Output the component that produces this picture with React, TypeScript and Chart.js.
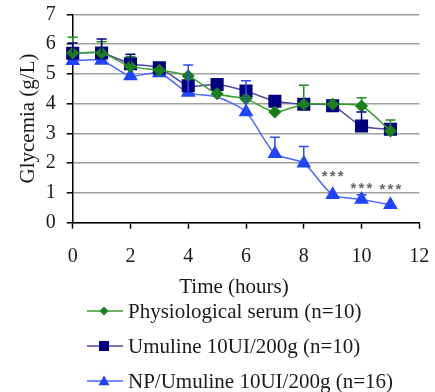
import React, { useEffect, useRef } from "react";
import { Chart, registerables } from "chart.js";

Chart.register(...registerables);

const hours = [0, 1, 2, 3, 4, 5, 6, 7, 8, 9, 10, 11];
const serumValues = [5.7, 5.7, 5.25, 5.12, 4.93, 4.33, 4.16, 3.72, 3.98, 3.98, 3.92, 3.08];
const serumErrors = [0.53, 0.38, 0.33, 0, 0, 0, 0, 0, 0.64, 0, 0.28, 0.37];
const umulineValues = [5.69, 5.7, 5.34, 5.2, 4.6, 4.64, 4.42, 4.08, 3.98, 3.93, 3.25, 3.14];
const umulineErrors = [0.35, 0.47, 0.32, 0, 0, 0, 0, 0, 0, 0, 0.47, 0];
const npValues = [5.44, 5.45, 4.93, 5.03, 4.37, 4.22, 3.72, 2.32, 2.0, 0.94, 0.78, 0.6];
const npErrors = [0, 0, 0, 0, 0.93, 0, 1.05, 0.55, 0.56, 0, 0.16, 0];
const npMarkerShown = [1, 1, 1, 1, 1, 0, 1, 1, 1, 1, 1, 1];

const seriesLabels = [
  "Physiological serum (n=10)",
  "Umuline 10UI/200g (n=10)",
  "NP/Umuline 10UI/200g (n=16)",
];
const sigHours = [9, 10, 11];
const sigLevels = [1.7, 1.3, 1.26];
const sigText = "***";

const xTitle = "Time (hours)";
const yTitle = "Glycemia (g/L)";

const FONT = "'Liberation Serif', 'DejaVu Serif', serif";

// target plot rectangle in canvas pixels
const AREA = { left: 72.7, right: 419.3, top: 14.3, bottom: 222.7 };

const errorBarPlugin = {
  id: "errorBars",
  afterDatasetsDraw(chart: any) {
    const ctx = chart.ctx;
    const y = chart.scales.y;
    chart.data.datasets.forEach((ds: any, i: number) => {
      const meta = chart.getDatasetMeta(i);
      const errs: number[] = ds.errors || [];
      ctx.save();
      ctx.strokeStyle = ds.errColor;
      ctx.lineWidth = 1.5;
      meta.data.forEach((pt: any, j: number) => {
        const e = errs[j];
        const d = ds.data[j];
        if (!e || d == null || d.y == null) return;
        const y0 = y.getPixelForValue(d.y);
        const y1 = y.getPixelForValue(d.y + e);
        ctx.beginPath();
        ctx.moveTo(pt.x, y0);
        ctx.lineTo(pt.x, y1);
        ctx.moveTo(pt.x - 5, y1);
        ctx.lineTo(pt.x + 5, y1);
        ctx.stroke();
      });
      ctx.restore();
    });
  },
};

function drawMarker(ctx: any, style: string, x: number, y: number, r: number, color: string) {
  ctx.save();
  ctx.fillStyle = color;
  ctx.beginPath();
  if (style === "rectRot") {
    ctx.moveTo(x, y - r);
    ctx.lineTo(x + r, y);
    ctx.lineTo(x, y + r);
    ctx.lineTo(x - r, y);
  } else if (style === "rect") {
    ctx.rect(x - r, y - r, 2 * r, 2 * r);
  } else {
    ctx.moveTo(x, y - r);
    ctx.lineTo(x + r, y + r * 0.75);
    ctx.lineTo(x - r, y + r * 0.75);
  }
  ctx.closePath();
  ctx.fill();
  ctx.restore();
}

const extrasPlugin = {
  id: "extras",
  afterDraw(chart: any) {
    const ctx = chart.ctx;
    const { x, y } = chart.scales;
    const area = chart.chartArea;
    ctx.save();
    // significance marks
    ctx.fillStyle = "#666";
    ctx.font = "bold 15px 'Liberation Sans', Arial, sans-serif";
    ctx.textAlign = "center";
    ctx.textBaseline = "alphabetic";
    sigHours.forEach((h, i) => {
      const cx = x.getPixelForValue(h);
      const cy = y.getPixelForValue(sigLevels[i]) + 8.7;
      const chars = sigText.split("");
      chars.forEach((c, k) => {
        ctx.fillText(c, cx + (k - (chars.length - 1) / 2) * 8, cy);
      });
    });
    // axis titles
    ctx.textBaseline = "middle";
    ctx.fillStyle = "#1a1a1a";
    ctx.font = "21px " + FONT;
    ctx.fillText(xTitle, (area.left + area.right) / 2 - 12, 287);
    ctx.save();
    ctx.translate(28, (area.top + area.bottom) / 2);
    ctx.rotate(-Math.PI / 2);
    ctx.fillText(yTitle, 0, 0);
    ctx.restore();
    // legend
    const rows = [311, 346, 381];
    chart.data.datasets.forEach((ds: any, i: number) => {
      const ry = rows[i];
      ctx.strokeStyle = ds.borderColor;
      ctx.lineWidth = 1.5;
      ctx.beginPath();
      ctx.moveTo(87, ry);
      ctx.lineTo(123, ry);
      ctx.stroke();
      drawMarker(ctx, ds.pointStyle, 104, ry, ds.legendR, ds.pointBackgroundColor);
      ctx.fillStyle = "#1a1a1a";
      ctx.font = "21px " + FONT;
      ctx.textAlign = "left";
      ctx.fillText(ds.label, 128, ry + 1);
    });
    ctx.restore();
  },
};

export default function App() {
  const ref = useRef<HTMLCanvasElement | null>(null);
  useEffect(() => {
    if (!ref.current) return;
    const mk = (vals: number[]) => hours.map((h, i) => ({ x: h, y: vals[i] }));
    const chart = new Chart(ref.current, {
      type: "line",
      data: {
        datasets: [
          {
            label: seriesLabels[0],
            data: mk(serumValues),
            errors: serumErrors,
            errColor: "#1f8f1f",
            borderColor: "#3a9f2a",
            backgroundColor: "#1a7f1a",
            pointBackgroundColor: "#1a7f1a",
            pointBorderColor: "#1a7f1a",
            pointStyle: "rectRot",
            pointRadius: 5.5,
            legendR: 4.5,
            borderWidth: 1.5,
            tension: 0.25,
            clip: false,
          } as any,
          {
            label: seriesLabels[1],
            data: mk(umulineValues),
            errors: umulineErrors,
            errColor: "#000080",
            borderColor: "#4a4aa0",
            backgroundColor: "#000080",
            pointBackgroundColor: "#000080",
            pointBorderColor: "#000080",
            pointStyle: "rect",
            pointRadius: 8.2,
            legendR: 5,
            borderWidth: 1.5,
            tension: 0.25,
            clip: false,
          } as any,
          {
            label: seriesLabels[2],
            data: mk(npValues),
            errors: npErrors,
            errColor: "#2a4dff",
            borderColor: "#4a66ff",
            backgroundColor: "#1f44ff",
            pointBackgroundColor: "#1f44ff",
            pointBorderColor: "#1f44ff",
            pointStyle: "triangle",
            pointRadius: npMarkerShown.map((s) => (s ? 7 : 0)),
            legendR: 5.5,
            borderWidth: 1.5,
            tension: 0.25,
            clip: false,
          } as any,
        ],
      },
      options: {
        responsive: false,
        animation: false,
        devicePixelRatio: 1,
        layout: {
          padding: { left: 0, right: 435 - AREA.right, top: AREA.top, bottom: 0 },
        },
        plugins: { legend: { display: false }, tooltip: { enabled: false } },
        scales: {
          x: {
            type: "linear",
            min: 0,
            max: 12,
            ticks: {
              stepSize: 2,
              color: "#1a1a1a",
              font: { family: FONT, size: 20 },
              padding: 16,
              maxRotation: 0,
            },
            grid: {
              display: true,
              drawOnChartArea: false,
              tickLength: 6,
              tickColor: "#000",
              tickWidth: 1.5,
            },
            border: { color: "#000", width: 1.5 },
            afterFit: (s: any) => {
              s.height = 392 - AREA.bottom;
              s.paddingLeft = 0;
              s.paddingRight = 0;
            },
          },
          y: {
            min: 0,
            max: 7,
            ticks: {
              stepSize: 1,
              color: "#1a1a1a",
              font: { family: FONT, size: 20 },
              padding: 11,
            },
            grid: {
              color: "#a0a0a0",
              lineWidth: 1.6,
              tickLength: 6,
              tickColor: "#000",
              tickWidth: 1.5,
            },
            border: { color: "#000", width: 1.5 },
            afterFit: (s: any) => {
              s.width = AREA.left;
              s.paddingTop = 0;
              s.paddingBottom = 0;
            },
          },
        },
      } as any,
      plugins: [errorBarPlugin, extrasPlugin],
    });
    return () => chart.destroy();
  }, []);
  return (
    <div style={{ position: "absolute", left: 0, top: 0, width: 435, height: 392, background: "#fff" }}>
      <canvas ref={ref} width={435} height={392} style={{ display: "block" }} />
    </div>
  );
}
